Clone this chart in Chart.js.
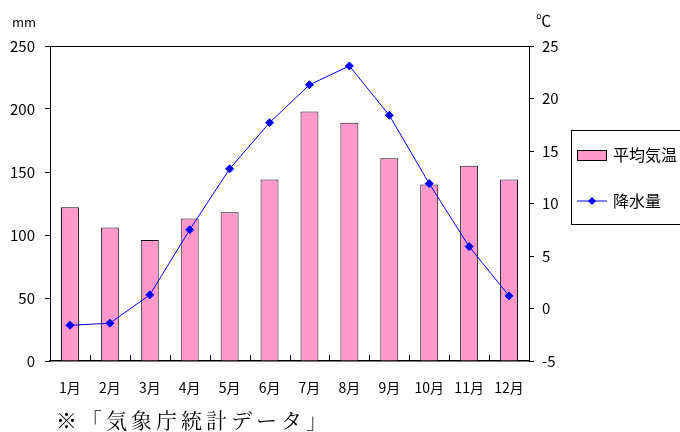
<!DOCTYPE html>
<html>
<head>
<meta charset="utf-8">
<script src="https://cdn.jsdelivr.net/npm/chart.js@4.4.0/dist/chart.umd.min.js"></script>
<style>
  body { margin: 0; background: #fff; }
  #wrap { width: 680px; height: 432px; }
</style>
</head>
<body>
<div id="wrap"><canvas id="kikouChart" width="680" height="432"></canvas></div>
<script>
var months = ["1月", "2月", "3月", "4月", "5月", "6月", "7月", "8月", "9月", "10月", "11月", "12月"];
var heikinKion = [122, 106, 96, 113, 118, 144, 198, 189, 161, 140, 155, 144]; // mm axis (bars)
var kousuiryou = [-1.6, -1.4, 1.3, 7.5, 13.3, 17.7, 21.3, 23.1, 18.4, 11.9, 5.9, 1.2]; // ℃ axis (line)
var mmTicks = [0, 50, 100, 150, 200, 250];
var tempTicks = [-5, 0, 5, 10, 15, 20, 25];

var tickFont = { family: "'Noto Sans CJK JP', 'DejaVu Sans', sans-serif", size: 15 };
var monthFont = { family: "'Noto Sans CJK JP', 'DejaVu Sans', sans-serif", size: 14 };

// frame top line, inward x ticks, units, legend, footnote
var extras = {
    id: 'extras',
    afterDraw: function (chart) {
        var c = chart.ctx;
        var a = chart.chartArea;
        var xs = chart.scales.x;
        c.save();
        c.strokeStyle = '#000';
        c.lineWidth = 1;
        c.beginPath();
        c.moveTo(a.left, a.top + 0.5);
        c.lineTo(a.right, a.top + 0.5);
        c.stroke();
        for (var i = 1; i < months.length; i++) {
            var x = Math.round(xs.getPixelForValue(i - 0.5)) + 0.5;
            c.beginPath();
            c.moveTo(x, a.bottom);
            c.lineTo(x, a.bottom - 6);
            c.stroke();
        }

        c.fillStyle = '#000';
        c.textBaseline = 'middle';
        c.font = "13px 'Noto Sans CJK JP', sans-serif";
        c.textAlign = 'left';
        c.fillText('mm', 12, 22);
        c.font = "15px 'Noto Sans CJK JP', sans-serif";
        c.fillText('℃', 536, 20);

        // legend
        var bar = chart.data.datasets[0];
        var line = chart.data.datasets[1];
        c.lineWidth = 1;
        c.strokeRect(571.5, 130.5, 130, 94);
        c.fillStyle = bar.backgroundColor;
        c.fillRect(577, 150, 29, 10);
        c.strokeStyle = '#000';
        c.strokeRect(577.5, 150.5, 29, 10);
        c.strokeStyle = line.borderColor;
        c.beginPath();
        c.moveTo(577, 201);
        c.lineTo(607, 201);
        c.stroke();
        c.fillStyle = line.borderColor;
        c.beginPath();
        c.moveTo(592, 197);
        c.lineTo(596, 201);
        c.lineTo(592, 205);
        c.lineTo(588, 201);
        c.closePath();
        c.fill();
        c.fillStyle = '#000';
        c.font = "16px 'Noto Sans CJK JP', sans-serif";
        c.fillText(bar.label, 613, 155);
        c.fillText(line.label, 613, 201);

        c.font = "21px 'Noto Serif CJK JP', 'Noto Sans CJK JP', serif";
        c.letterSpacing = '4px';
        c.fillText('※「気象庁統計データ」', 56, 420);
        c.restore();
    }
};

var ctx = document.getElementById('kikouChart').getContext('2d');
var kikouChart = new Chart(ctx, {
    type: 'bar',
    data: {
        labels: months,
        datasets: [{
            type: 'bar',
            label: '平均気温',
            data: heikinKion,
            yAxisID: 'y',
            backgroundColor: '#FF99CC',
            borderColor: '#111',
            borderWidth: 1,
            barPercentage: 0.45,
            categoryPercentage: 1.0,
            order: 2
        }, {
            type: 'line',
            label: '降水量',
            data: kousuiryou,
            yAxisID: 'y1',
            borderColor: '#0000FF',
            backgroundColor: '#0000FF',
            borderWidth: 1,
            pointStyle: 'rectRot',
            pointRadius: 4,
            pointBorderWidth: 1,
            tension: 0,
            order: 1
        }]
    },
    options: {
        responsive: false,
        animation: false,
        layout: { padding: { top: 46, left: 0, right: 0, bottom: 0 } },
        plugins: {
            legend: { display: false },
            tooltip: { enabled: false }
        },
        scales: {
            x: {
                offset: true,
                grid: { display: false },
                border: { display: true, color: '#000', width: 1.5 },
                ticks: { color: '#000', font: monthFont, padding: 10, maxRotation: 0 },
                afterFit: function (s) { s.height = 71; }
            },
            y: {
                position: 'left',
                min: 0,
                max: 250,
                afterBuildTicks: function (s) { s.ticks = mmTicks.map(function (v) { return { value: v }; }); },
                grid: { display: true, drawOnChartArea: false, tickLength: 5, color: '#000' },
                border: { display: true, color: '#000', width: 1 },
                ticks: { color: '#000', font: tickFont, padding: 10 },
                afterFit: function (s) { s.width = 50; }
            },
            y1: {
                position: 'right',
                min: -5,
                max: 25,
                afterBuildTicks: function (s) { s.ticks = tempTicks.map(function (v) { return { value: v }; }); },
                grid: { display: true, drawOnChartArea: false, tickLength: 5, color: '#000' },
                border: { display: true, color: '#000', width: 1 },
                ticks: { color: '#000', font: tickFont, padding: 8 },
                afterFit: function (s) { s.width = 151; }
            }
        }
    },
    plugins: [extras]
});
</script>
</body>
</html>
